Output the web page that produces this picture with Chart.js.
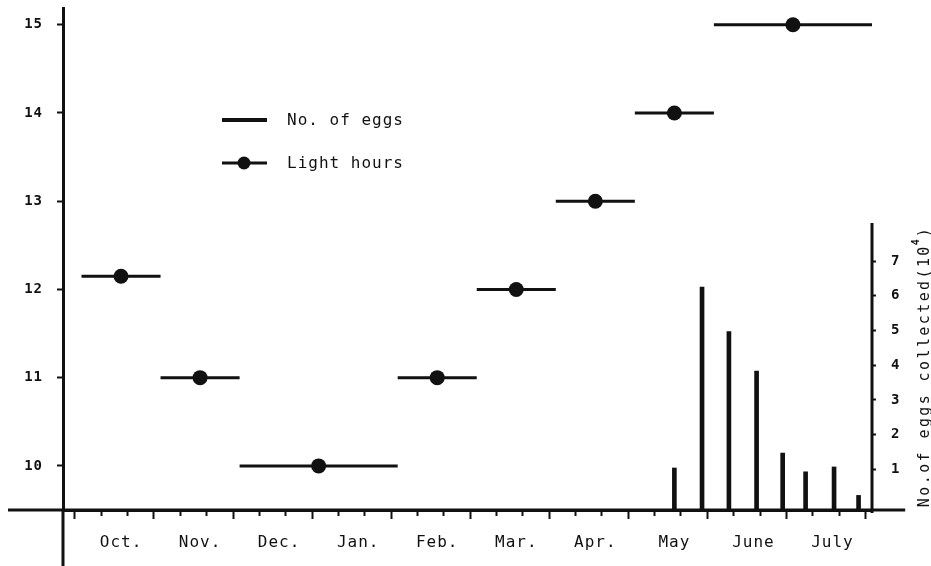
<!DOCTYPE html>
<html>
<head>
<meta charset="utf-8">
<script src="https://cdn.jsdelivr.net/npm/chart.js@4"></script>
<style>
  html, body { margin: 0; padding: 0; background: #fff; }
  #wrap { width: 931px; height: 566px; position: relative; }
</style>
</head>
<body>
<div id="wrap"><canvas id="c" width="931" height="566"></canvas></div>
<script>
// Month labels; the time axis counts months from 1 October (0) to 1 August (10)
const months = ['Oct.', 'Nov.', 'Dec.', 'Jan.', 'Feb.', 'Mar.', 'Apr.', 'May', 'June', 'July'];

// Light regime: hours of light held over each period [start, end)
const lightStart = [0, 1, 2, 4, 5, 6, 7, 8];
const lightEnd   = [1, 2, 4, 5, 6, 7, 8, 10];
const lightHours = [12.15, 11, 10, 11, 12, 13, 14, 15];

// Egg collections: when (months from 1 Oct) and how many (x 10^4)
const eggTimes  = [7.50, 7.85, 8.19, 8.54, 8.87, 9.16, 9.52, 9.83];
const eggCounts = [1.04, 6.25, 4.97, 3.83, 1.47, 0.93, 1.07, 0.25];

// Tick labels
const hourTicks = [10, 11, 12, 13, 14, 15];
const eggTicks  = [1, 2, 3, 4, 5, 6, 7];

// Axis extents (data units)
const xMin = -0.234, xMax = 10;          // plot spans from the hours axis to the egg axis
const xAxisFrom = -0.93, xAxisTo = 10.42; // the time axis line overshoots both ends
const yMin = 9.5, yMax = 15.19;
const eggMin = -0.17, eggMax = 14.29, eggAxisTop = 8.1;

const INK = '#111';
const FONT = 'DejaVu Sans Mono';
const SPACING = '1px';

// Horizontal light-hour steps, broken between periods
const stepPoints = [];
lightHours.forEach((h, i) => {
  stepPoints.push({ x: lightStart[i], y: h }, { x: lightEnd[i], y: h }, { x: lightEnd[i], y: null });
});
const stepDots = lightHours.map((h, i) => ({ x: (lightStart[i] + lightEnd[i]) / 2, y: h }));
const eggBars = eggCounts.map((v, i) => ({ x: eggTimes[i], y: v }));

// Time-axis ticks every 5 days: marks every 10 days, month names mid-month
const timeTicks = Array.from({ length: months.length * 6 + 1 }, (_, k) => ({ value: k / 6 }));

// Keep the plot area flush with the axes: no extra room for overhanging labels
const noOverhang = s => { s.paddingTop = 0; s.paddingBottom = 0; s.paddingLeft = 0; s.paddingRight = 0; };

const frame = {
  id: 'frame',
  beforeDraw(chart) {
    chart.ctx.letterSpacing = SPACING;
  },
  afterDraw(chart) {
    const { ctx, scales: { x, y, y1 } } = chart;
    const seg = (x1, y1p, x2, y2p) => { ctx.beginPath(); ctx.moveTo(x1, y1p); ctx.lineTo(x2, y2p); ctx.stroke(); };
    ctx.save();
    ctx.strokeStyle = INK;
    ctx.lineWidth = 3;
    const base = y.getPixelForValue(yMin);
    const leftX = x.getPixelForValue(xMin);
    const rightX = x.getPixelForValue(xMax);
    // time axis through both vertical axes
    seg(x.getPixelForValue(xAxisFrom), base, x.getPixelForValue(xAxisTo), base);
    // hours axis carries on below the time axis
    seg(leftX, base, leftX, chart.height);
    // egg axis
    seg(rightX, y1.getPixelForValue(eggMin) + 3, rightX, y1.getPixelForValue(eggAxisTop));

    // legend
    ctx.fillStyle = INK;
    ctx.font = '16px "' + FONT + '"';
    ctx.letterSpacing = SPACING;
    ctx.textBaseline = 'middle';
    ctx.textAlign = 'left';
    const ds = chart.data.datasets;
    ctx.lineWidth = 4;
    seg(222, 120, 267, 120);
    ctx.fillText(ds[2].label, 287, 121);
    ctx.lineWidth = 3;
    seg(222, 163, 267, 163);
    ctx.beginPath(); ctx.arc(244, 163, 6.5, 0, Math.PI * 2); ctx.fill();
    ctx.fillText(ds[0].label, 287, 164);

    // egg axis title, reading upward
    const midY = (y1.getPixelForValue(eggMin) + y1.getPixelForValue(eggAxisTop)) / 2;
    ctx.translate(929, midY);
    ctx.rotate(-Math.PI / 2);
    ctx.textBaseline = 'alphabetic';
    const big = '15px "' + FONT + '"', small = 'bold 10px "' + FONT + '"';
    const main = 'No.of eggs collected(10';
    ctx.font = big; ctx.letterSpacing = '2.4px';
    const w1 = ctx.measureText(main).width;
    const w3 = ctx.measureText(')').width;
    ctx.font = small; ctx.letterSpacing = '1px';
    const w2 = ctx.measureText('4').width;
    const start = -(w1 + w2 + w3) / 2;
    ctx.font = big; ctx.letterSpacing = '2.4px';
    ctx.fillText(main, start, 0);
    ctx.fillText(')', start + w1 + w2, 0);
    ctx.font = small; ctx.letterSpacing = '1px';
    ctx.fillText('4', start + w1 - 1, -10);
    ctx.restore();
  }
};

new Chart(document.getElementById('c'), {
  type: 'scatter',
  data: {
    datasets: [
      {
        type: 'line', label: 'Light hours', data: stepPoints, yAxisID: 'y',
        borderColor: INK, borderWidth: 3, pointRadius: 0, spanGaps: false, fill: false, order: 2
      },
      {
        type: 'scatter', label: 'Light hours (mid)', data: stepDots, yAxisID: 'y',
        pointRadius: 7.5, pointBackgroundColor: INK, pointBorderWidth: 0, order: 1
      },
      {
        type: 'bar', label: 'No. of eggs', data: eggBars, yAxisID: 'y1',
        backgroundColor: INK, barThickness: 4, base: eggMin, grouped: false, order: 3
      }
    ]
  },
  plugins: [frame],
  options: {
    responsive: false,
    animation: false,
    events: [],
    layout: { padding: { top: 8, left: 0, right: 0, bottom: 0 } },
    plugins: { legend: { display: false }, tooltip: { enabled: false } },
    scales: {
      x: {
        type: 'linear', position: 'bottom', min: xMin, max: xMax, offset: false,
        afterBuildTicks: s => { s.ticks = timeTicks.map(t => ({ value: t.value })); },
        afterFit: s => { s.height = 56; noOverhang(s); },
        border: { display: true, color: INK, width: 3 },
        grid: {
          drawOnChartArea: false, tickLength: 9, tickWidth: 2,
          tickColor: c => (c.index % 2 === 0 ? INK : 'rgba(0,0,0,0)'),
          tickBorderDash: c => (c.index % 6 === 0 ? [] : [4, 40])
        },
        ticks: {
          autoSkip: false, maxRotation: 0, minRotation: 0, padding: 14, color: INK,
          font: { family: FONT, size: 16 },
          callback: (v, i) => (i % 6 === 3 ? months[(i - 3) / 6] : '')
        }
      },
      y: {
        type: 'linear', position: 'left', min: yMin, max: yMax,
        afterBuildTicks: s => { s.ticks = hourTicks.map(v => ({ value: v })); },
        afterFit: s => { s.width = 63; noOverhang(s); },
        border: { display: true, color: INK, width: 3 },
        grid: { drawOnChartArea: false, tickLength: 6, tickWidth: 2, tickColor: INK },
        ticks: { padding: 14, color: INK, font: { family: FONT, size: 14, weight: 'bold' } }
      },
      y1: {
        type: 'linear', position: 'right', min: eggMin, max: eggMax,
        afterBuildTicks: s => { s.ticks = eggTicks.map(v => ({ value: v })); },
        afterFit: s => { s.width = 59; noOverhang(s); },
        border: { display: false },
        grid: { drawOnChartArea: false, tickLength: 4, tickWidth: 2, tickColor: INK },
        ticks: { padding: 15, color: INK, font: { family: FONT, size: 14, weight: 'bold' } }
      }
    }
  }
});
</script>
</body>
</html>
